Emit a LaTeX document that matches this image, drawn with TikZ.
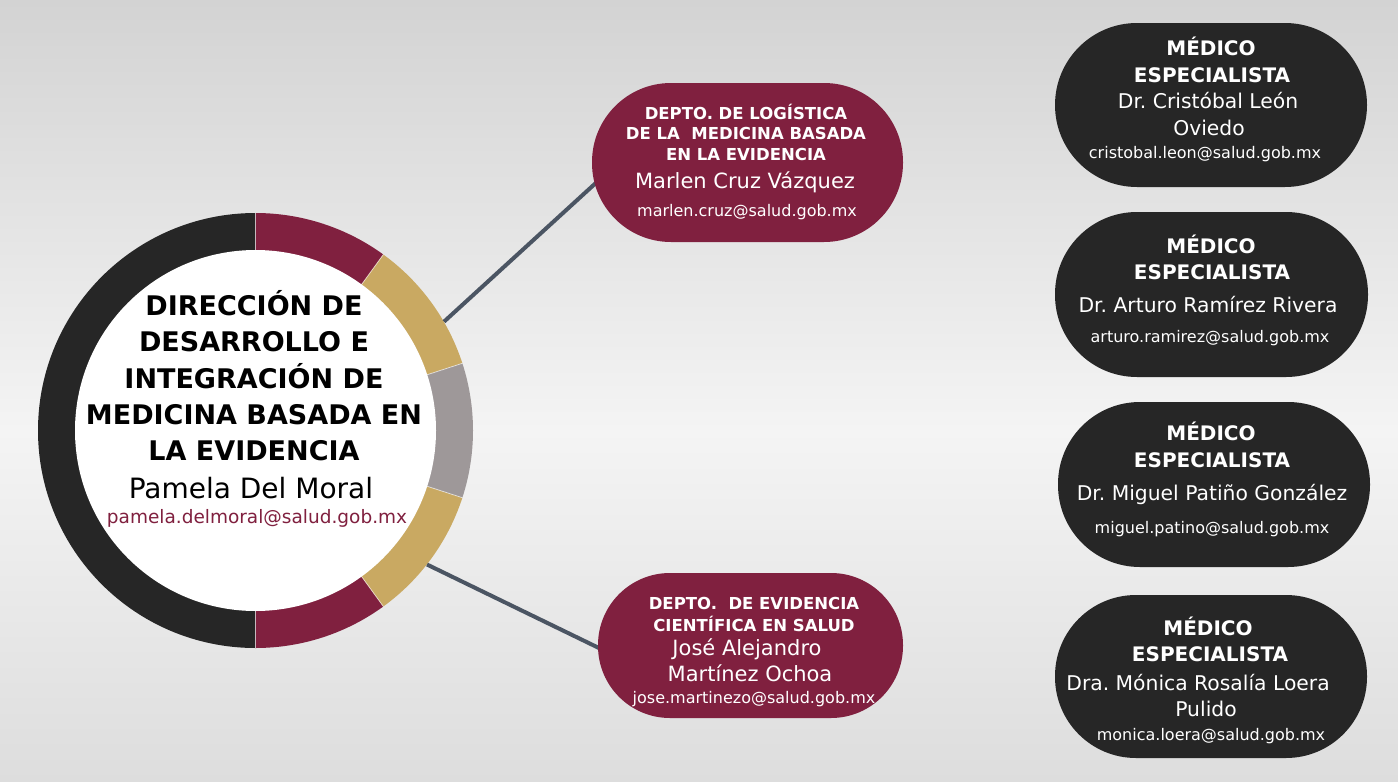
\documentclass[tikz,border=0pt]{standalone}
\usepackage{fontspec}
\setmainfont{DejaVu Sans}
\definecolor{maroon}{HTML}{80203F}
\definecolor{ink}{HTML}{262626}
\definecolor{gold}{HTML}{C9A962}
\definecolor{ringgrey}{HTML}{9E9899}
\definecolor{wire}{HTML}{4B5563}
\definecolor{bgtop}{HTML}{D3D3D3}
\definecolor{bgmid}{HTML}{F4F4F4}
\definecolor{bgbot}{HTML}{DDDDDD}
\newcommand\fsz[1]{\fontsize{#1}{#1}\selectfont}
\frenchspacing
\begin{document}
\begin{tikzpicture}[x=1pt,y=-1pt,
  ln/.style={anchor=base, inner sep=0pt, text=white},
  lnd/.style={anchor=base, inner sep=0pt, text=black},
  pill/.style={fill=#1, inner sep=0pt},
  ttl/.style={font=\bfseries\fsz{27}},
  dhd/.style={font=\bfseries\fsz{16.5}},
  dnm/.style={font=\fsz{21}},
  dml/.style={font=\fsz{16}},
  shd/.style={font=\bfseries\fsz{20}},
  snm/.style={font=\fsz{20.3}},
  sml/.style={font=\fsz{16}},
  sep/.style={white, line width=0.8pt, opacity=0.6},
  wirel/.style={wire, line width=4pt}]
\useasboundingbox (0,0) rectangle (1398,782);
\shade[top color=bgtop, bottom color=bgmid] (0,0) rectangle (1398,431);
\shade[top color=bgmid, bottom color=bgbot] (0,430) rectangle (1398,782);

% ring
\node[circle, minimum size=435pt, inner sep=0pt] (circ) at (255.5,430.5) {};
\fill[ink] (circ.center) -- ++(90:217.5pt) arc[start angle=90, end angle=270, radius=217.5pt] -- cycle;
\fill[maroon] (circ.center) -- ++(54:217.5pt) arc[start angle=54, end angle=90, radius=217.5pt] -- cycle;
\fill[maroon] (circ.center) -- ++(270:217.5pt) arc[start angle=270, end angle=306, radius=217.5pt] -- cycle;
\fill[gold] (circ.center) -- ++(18:217.5pt) arc[start angle=18, end angle=54, radius=217.5pt] -- cycle;
\fill[gold] (circ.center) -- ++(-54:217.5pt) arc[start angle=-54, end angle=-18, radius=217.5pt] -- cycle;
\fill[ringgrey] (circ.center) -- ++(-18:217.5pt) arc[start angle=-18, end angle=18, radius=217.5pt] -- cycle;
\foreach \a in {90,54,18,-18,-54,-90}
  \draw[sep] (circ.center) -- (circ.\a);
\node[circle, fill=white, minimum size=361pt, inner sep=0pt] (inner) at (circ.center) {};

% connectors
\coordinate (e1) at (598,181);
\coordinate (e2) at (601,649);
\draw[wirel] (circ.30) -- (e1);
\draw[wirel] (circ.-38) -- (e2);

% department boxes
\node[pill=maroon, minimum width=311pt, minimum height=159pt, rounded corners=79pt] (d1) at (747.5,162.5) {};
\node[pill=maroon, minimum width=305pt, minimum height=145pt, rounded corners=72pt] (d2) at (750.5,645.5) {};

% specialist boxes
\node[pill=ink, minimum width=312pt, minimum height=164pt, rounded corners=82pt] (s1) at (1211,105) {};
\node[pill=ink, minimum width=313pt, minimum height=165pt, rounded corners=82pt] (s2) at (1211.5,294.5) {};
\node[pill=ink, minimum width=312pt, minimum height=165pt, rounded corners=82pt] (s3) at (1214,484.5) {};
\node[pill=ink, minimum width=312pt, minimum height=163pt, rounded corners=81pt] (s4) at (1211,676.5) {};

% circle text
\node[lnd, ttl] (c1) at (254,315) {DIRECCIÓN DE};
\node[lnd, ttl] (c2) at (254,351.5) {DESARROLLO E};
\node[lnd, ttl] (c3) at (254,388) {INTEGRACIÓN DE};
\node[lnd, ttl] (c4) at (254,424.5) {MEDICINA BASADA EN};
\node[lnd, ttl] (c5) at (254,460) {LA EVIDENCIA};
\node[lnd, font=\fsz{28}] (c6) at (251,498) {Pamela Del Moral};
\node[lnd, font=\fsz{18.5}, text=maroon] (c7) at (257,523) {pamela.delmoral@salud.gob.mx};

% dept 1 text
\node[ln, dhd] (d1a) at (746,119) {DEPTO. DE LOGÍSTICA};
\node[ln, dhd] (d1b) at (746,139) {DE LA\ \ MEDICINA BASADA};
\node[ln, dhd] (d1c) at (746,160) {EN LA EVIDENCIA};
\node[ln, dnm] (d1d) at (745,188) {Marlen Cruz Vázquez};
\node[ln, dml] (d1e) at (747,216) {marlen.cruz@salud.gob.mx};

% dept 2 text
\node[ln, dhd] (d2a) at (754,609) {DEPTO.\ \ DE EVIDENCIA};
\node[ln, dhd] (d2b) at (754,631) {CIENTÍFICA EN SALUD};
\node[ln, dnm] (d2c) at (747,655) {José Alejandro};
\node[ln, dnm] (d2d) at (750,681) {Martínez Ochoa};
\node[ln, dml] (d2e) at (754,703) {jose.martinezo@salud.gob.mx};

% specialist 1
\node[ln, shd] (s1a) at (1211,55) {MÉDICO};
\node[ln, shd] (s1b) at (1212,82) {ESPECIALISTA};
\node[ln, snm] (s1c) at (1208,108) {Dr. Cristóbal León};
\node[ln, snm] (s1d) at (1209,135) {Oviedo};
\node[ln, sml] (s1e) at (1205,158) {cristobal.leon@salud.gob.mx};

% specialist 2
\node[ln, shd] (s2a) at (1211,253) {MÉDICO};
\node[ln, shd] (s2b) at (1212,279) {ESPECIALISTA};
\node[ln, snm] (s2c) at (1208,312) {Dr. Arturo Ramírez Rivera};
\node[ln, sml] (s2e) at (1210,342) {arturo.ramirez@salud.gob.mx};

% specialist 3
\node[ln, shd] (s3a) at (1211,440) {MÉDICO};
\node[ln, shd] (s3b) at (1212,467) {ESPECIALISTA};
\node[ln, snm] (s3c) at (1212,500) {Dr. Miguel Patiño González};
\node[ln, sml] (s3e) at (1212,533) {miguel.patino@salud.gob.mx};

% specialist 4
\node[ln, shd] (s4a) at (1208,635) {MÉDICO};
\node[ln, shd] (s4b) at (1210,661) {ESPECIALISTA};
\node[ln, snm] (s4c) at (1198,690) {Dra. Mónica Rosalía Loera};
\node[ln, snm] (s4d) at (1206,716) {Pulido};
\node[ln, sml] (s4e) at (1211,740) {monica.loera@salud.gob.mx};
\end{tikzpicture}
\end{document}
